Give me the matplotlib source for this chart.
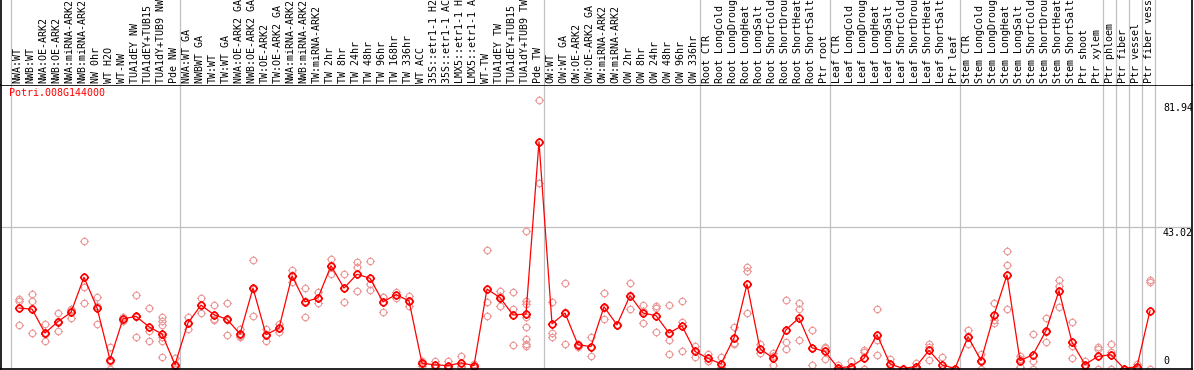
import matplotlib
matplotlib.use('Agg')
import matplotlib.pyplot as plt
import matplotlib.transforms as mtransforms
from matplotlib.path import Path

# sample labels (one column each)
labels = [
    'NWA:WT', 'NWB:WT', 'NWA:OE-ARK2', 'NWB:OE-ARK2', 'NWA:miRNA-ARK2', 'NWB:miRNA-ARK2',
    'NW 0hr', 'WT H2O', 'WT-NW', 'TUA1dEY NW', 'TUA1dEY+TUB15 NW', 'TUA1dY+TUB9 NW', 'Pde NW',
    'NWA:WT GA', 'NWBWT GA', 'TW:WT', 'TW:WT GA', 'NWA:OE-ARK2 GA', 'NWB:OE-ARK2 GA',
    'TW:OE-ARK2', 'TW:OE-ARK2 GA', 'NWA:miRNA-ARK2', 'NWB:miRNA-ARK2', 'TW:miRNA-ARK2',
    'TW 2hr', 'TW 8hr', 'TW 24hr', 'TW 48hr', 'TW 96hr', 'TW 168hr', 'TW 336hr', 'WT ACC',
    '35S::etr1-1 H2O', '35S::etr1-1 ACC', 'LMX5::etr1-1 H2O', 'LMX5::etr1-1 ACC', 'WT-TW',
    'TUA1dEY TW', 'TUA1dEY+TUB15 TW', 'TUA1dY+TUB9 TW', 'Pde TW',
    'OW:WT', 'OW:WT GA', 'OW:OE-ARK2', 'OW:OE-ARK2 GA', 'OW:miRNA-ARK2', 'OW:miRNA-ARK2',
    'OW 2hr', 'OW 8hr', 'OW 24hr', 'OW 48hr', 'OW 96hr', 'OW 336hr',
    'Root CTR', 'Root LongCold', 'Root LongDrought', 'Root LongHeat', 'Root LongSalt',
    'Root ShortCold', 'Root ShortDrought', 'Root ShortHeat', 'Root ShortSalt', 'Ptr root',
    'Leaf CTR', 'Leaf LongCold', 'Leaf LongDrought', 'Leaf LongHeat', 'Leaf LongSalt',
    'Leaf ShortCold', 'Leaf ShortDrought', 'Leaf ShortHeat', 'Leaf ShortSalt', 'Ptr leaf',
    'Stem CTR', 'Stem LongCold', 'Stem LongDrought', 'Stem LongHeat', 'Stem LongSalt',
    'Stem ShortCold', 'Stem ShortDrought', 'Stem ShortHeat', 'Stem ShortSalt', 'Ptr shoot',
    'Ptr xylem', 'Ptr phloem', 'Ptr fiber', 'Ptr vessel', 'Ptr fiber vessel',
]

# mean expression per sample
means = [
    18.4, 18.1, 10.8, 14.3, 17.1, 27.8, 18.5, 2.7, 15.1, 15.9, 12.7, 10.5, 1.2,
    13.9, 19.3, 16.4, 15.0, 10.5, 24.5, 10.3, 12.3, 28.2, 20.3, 21.5, 31.3, 24.5,
    28.7, 27.5, 20.3, 22.5, 20.6, 1.6, 1.1, 0.9, 1.7, 0.9, 24.2, 21.6, 16.3, 16.6, 69.1,
    13.6, 16.9, 7.2, 6.7, 18.8, 13.3, 22.2, 16.9, 16.1, 10.8, 13.0, 5.2,
    3.1, 1.4, 9.3, 25.7, 6.0, 3.2, 11.8, 15.4, 6.3, 5.2,
    0.2, 0.6, 3.1, 10.3, 1.4, 0.0, 0.6, 5.5, 1.1, 0.0,
    9.7, 2.4, 16.3, 28.5, 2.4, 4.2, 11.5, 23.7, 8.0, 1.2,
    3.7, 4.2, 0.0, 0.6, 17.6,
]

# individual replicates per sample
reps = [
    [21.2, 13.3, 20.7], [22.7, 20.6, 10.8], [13.6, 10.5, 8.3], [16.9, 11.5, 14.5],
    [18.2, 17.8, 15.3], [38.8, 24.9, 19.9], [21.9, 19.1, 13.6], [6.5, 1.9, 0.0],
    [15.6, 14.6, 15.1], [22.4, 9.5, 15.8], [18.4, 11.5, 8.5],
    [15.6, 14.6, 13.4, 9.5, 8.5, 3.6], [3.1, 0.5, 0.0],
    [15.8, 12.0, 13.9], [21.6, 16.9, 19.4], [19.4, 14.8, 15.0], [19.8, 10.3, 14.9],
    [12.0, 9.5, 10.0], [33.1, 16.1, 24.3], [12.0, 8.5, 10.4], [13.7, 11.0, 12.2],
    [30.0, 26.2, 28.4], [24.5, 15.8, 20.6], [23.2, 19.8, 21.5], [33.3, 28.9, 31.6],
    [28.7, 20.3, 24.5], [32.3, 31.0, 23.7], [32.8, 25.7, 23.9], [21.9, 17.3, 21.7],
    [23.4, 21.6, 22.5], [22.2, 19.1, 20.5], [2.4, 0.9, 1.5], [2.4, 0.3, 0.6],
    [2.4, 0.0, 0.3], [3.9, 0.4, 0.8], [1.5, 0.3, 0.9], [36.1, 20.3, 16.1],
    [23.7, 19.1, 22.0], [23.4, 18.1, 7.2],
    [41.9, 20.6, 19.6, 15.6, 12.5, 9.0, 7.5, 7.0], [81.94, 56.5, 68.9],
    [20.4, 10.8, 9.5], [26.0, 7.5, 17.2], [7.5, 6.5, 7.6], [9.7, 3.9, 6.5],
    [22.9, 15.1, 18.4], [13.4, 13.2, 13.3], [26.0, 18.1, 22.5], [19.4, 13.9, 17.4],
    [19.1, 18.4, 11.2], [19.4, 8.7, 4.5], [20.6, 14.1, 5.2], [7.0, 3.4, 5.2],
    [4.5, 2.4, 2.4], [3.6, 0.0, 0.6], [12.5, 7.5, 7.9], [31.0, 29.7, 16.9],
    [7.5, 4.6, 5.9], [4.6, 1.1, 3.9], [20.8, 8.2, 6.0], [19.8, 18.1, 8.8],
    [11.7, 1.1, 6.1], [6.5, 2.9, 6.2],
    [1.1, 0.0, 0.0], [2.4, 0.0, 0.0], [5.5, 5.0, 0.0], [18.1, 4.2, 8.6],
    [2.9, 0.3, 1.0], [0.0, 0.0, 0.0], [1.8, 0.0, 0.0], [7.5, 2.6, 6.4],
    [3.4, 0.0, 0.0], [0.0, 0.0, 0.0],
    [11.7, 7.5, 9.9], [4.5, 0.0, 2.7], [20.1, 14.8, 14.0], [35.8, 31.5, 18.1],
    [3.9, 0.4, 2.9], [10.5, 2.4, 0.0], [15.3, 8.2, 11.0], [26.9, 25.2, 18.8],
    [14.3, 7.0, 3.1], [2.4, 0.3, 0.9], [6.5, 5.8, 0.0], [7.5, 5.1, 0.0],
    [0.0, 0.0, 0.0], [1.5, 0.0, 0.3], [26.9, 26.2, 0.0],
]

# group separators (after these column numbers)
separators = [0, 13, 41, 53, 63, 73, 84, 85, 86, 87, 88]
gene = 'Potri.008G144000'
ymax_val = 81.94
ymid_val = 43.02

W, H = 1194, 370
fig = plt.figure(figsize=(W / 100, H / 100), dpi=100)
mono = 'DejaVu Sans Mono'

# px helpers
def rect(l, t, r, b):
    return [l / W, 1 - b / H, (r - l) / W, (b - t) / H]

ax = fig.add_axes(rect(1, 85, 1192, 369))
head = fig.add_axes(rect(1, 0, 1192, 85), sharex=ax)

x = list(range(1, len(labels) + 1))
xmin = 1 - 18 / 13
ax.set_xlim(xmin, xmin + 1191 / 13)
scale = 269 / ymax_val
ymin = -0.5 / scale
ax.set_ylim(ymin, ymin + 284 / scale)
head.set_ylim(0, 1)

# circle marker with little ticks
circ = Path.unit_circle()
tk = Path([(0, 1), (0, 1.4), (0, -1), (0, -1.4), (1, 0), (1.4, 0), (-1, 0), (-1.4, 0)],
          [Path.MOVETO, Path.LINETO] * 4)
mk = Path.make_compound_path(circ, tk)

for a in (ax, head):
    a.set_xticks([])
    a.set_yticks([])
    for s in a.spines.values():
        s.set_color('black')
        s.set_linewidth(1.2)
    for s in separators:
        a.axvline(s + 0.39, color='#c0c0c0', lw=0.9, zorder=0)
head.spines['top'].set_visible(False)
head.spines['bottom'].set_visible(False)

ax.axhline(ymid_val, color='#c0c0c0', lw=0.9, zorder=0)

for xi, r in zip(x, reps):
    ax.plot([xi] * len(r), r, linestyle='none', marker=mk, markersize=6.5,
            markerfacecolor='none', markeredgecolor='#ec9a9a', markeredgewidth=0.8)

ax.plot(x, means, color='red', lw=0.9, marker=mk, markersize=6.5,
        markerfacecolor='none', markeredgecolor='red', markeredgewidth=1.2)

# y value labels on the right
ax.text(89.0, ymax_val - 1.2, f'{ymax_val:g}', ha='left', va='top', family=mono, fontsize=7.2)
ax.text(89.0, ymid_val - 0.2, f'{ymid_val:g}', ha='left', va='top', family=mono, fontsize=7.2)
ax.text(89.0, 0.9, '0', ha='left', va='bottom', family=mono, fontsize=7.2)

fig.text(9 / W, 1 - 88 / H, gene, color='red', ha='left', va='top', family=mono, fontsize=7.2)

trans = mtransforms.blended_transform_factory(head.transData, head.transAxes)
for xi, lab in zip(x, labels):
    head.text(xi - 0.1, 2 / 85, lab, rotation=90, ha='center', va='bottom',
              family=mono, fontsize=7.2, transform=trans, clip_on=True)

fig.savefig('out.png', dpi=100)
